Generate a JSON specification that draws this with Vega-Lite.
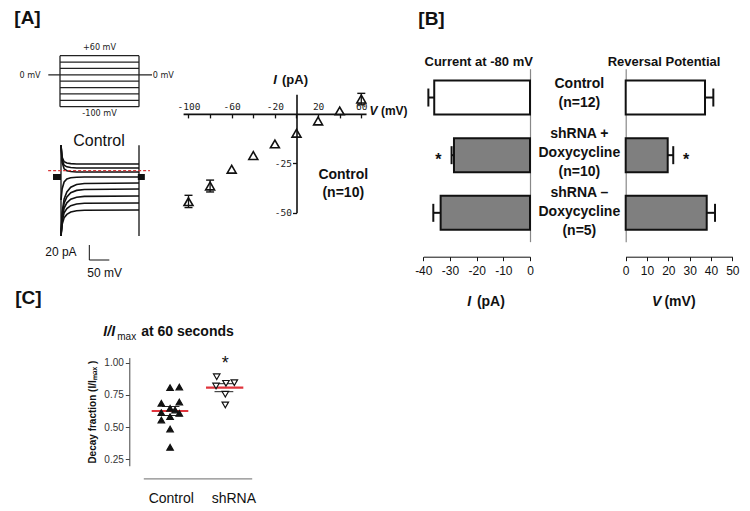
{
  "$schema": "https://vega.github.io/schema/vega-lite/v6.json",
  "width": 750,
  "height": 511,
  "autosize": {"type": "none"},
  "padding": 0,
  "background": "#ffffff",
  "config": {
    "view": {"stroke": null},
    "font": "Liberation Sans",
    "axis": {"grid": false, "labelFlush": false, "labelOverlap": false, "labelBound": false, "domainColor": "#111", "tickColor": "#111", "labelColor": "#111", "labelFont": "Liberation Sans", "titleFont": "Liberation Sans"},
    "text": {"color": "#111", "font": "Liberation Sans"}
  },
  "datasets": {
    "proto_segs": [
      {"t1": 0, "t2": 200, "v1": 60, "v2": 60},
      {"t1": 0, "t2": 200, "v1": 40, "v2": 40},
      {"t1": 0, "t2": 200, "v1": 20, "v2": 20},
      {"t1": -29.6, "t2": 232.9, "v1": 0, "v2": 0},
      {"t1": 0, "t2": 200, "v1": -20, "v2": -20},
      {"t1": 0, "t2": 200, "v1": -40, "v2": -40},
      {"t1": 0, "t2": 200, "v1": -60, "v2": -60},
      {"t1": 0, "t2": 200, "v1": -80, "v2": -80},
      {"t1": 0, "t2": 200, "v1": -100, "v2": -100},
      {"t1": 0, "t2": 0, "v1": -100, "v2": 60},
      {"t1": 200, "t2": 200, "v1": -100, "v2": 60}
    ],
    "proto_labels": [
      {"t": 100, "v": 87.3, "label": "+60 mV"},
      {"t": 100, "v": -119.8, "label": "-100 mV"},
      {"t": -75.9, "v": 0, "label": "0 mV"},
      {"t": 261.5, "v": 0, "label": "0 mV"}
    ],
    "traces": [
      {"tr": 1, "t": 0, "I": 33}, {"tr": 1, "t": 3, "I": 16.8}, {"tr": 1, "t": 8, "I": 11}, {"tr": 1, "t": 15, "I": 9.3}, {"tr": 1, "t": 25, "I": 8.5}, {"tr": 1, "t": 40, "I": 8}, {"tr": 1, "t": 60, "I": 8}, {"tr": 1, "t": 200, "I": 8},
      {"tr": 2, "t": 0, "I": 33}, {"tr": 2, "t": 3, "I": 13.3}, {"tr": 2, "t": 8, "I": 6.3}, {"tr": 2, "t": 15, "I": 4.2}, {"tr": 2, "t": 25, "I": 3.3}, {"tr": 2, "t": 40, "I": 2.7}, {"tr": 2, "t": 60, "I": 2.7}, {"tr": 2, "t": 200, "I": 2.7},
      {"tr": 3, "t": 0, "I": 33}, {"tr": 3, "t": 3, "I": 9.8}, {"tr": 3, "t": 8, "I": 1.6}, {"tr": 3, "t": 15, "I": -0.9}, {"tr": 3, "t": 25, "I": -2.0}, {"tr": 3, "t": 40, "I": -2.7}, {"tr": 3, "t": 60, "I": -2.7}, {"tr": 3, "t": 200, "I": -2.7},
      {"tr": 4, "t": 0, "I": -40}, {"tr": 4, "t": 3, "I": -25}, {"tr": 4, "t": 8, "I": -16}, {"tr": 4, "t": 15, "I": -12}, {"tr": 4, "t": 25, "I": -10.3}, {"tr": 4, "t": 40, "I": -9.6}, {"tr": 4, "t": 60, "I": -9.3}, {"tr": 4, "t": 200, "I": -9.3},
      {"tr": 5, "t": 0, "I": -88}, {"tr": 5, "t": 3, "I": -56.2}, {"tr": 5, "t": 8, "I": -38.5}, {"tr": 5, "t": 15, "I": -29.3}, {"tr": 5, "t": 25, "I": -23.0}, {"tr": 5, "t": 40, "I": -19.4}, {"tr": 5, "t": 60, "I": -18.0}, {"tr": 5, "t": 200, "I": -17.3},
      {"tr": 6, "t": 0, "I": -88}, {"tr": 6, "t": 3, "I": -59.8}, {"tr": 6, "t": 8, "I": -44.1}, {"tr": 6, "t": 15, "I": -36.0}, {"tr": 6, "t": 25, "I": -30.3}, {"tr": 6, "t": 40, "I": -27.2}, {"tr": 6, "t": 60, "I": -25.9}, {"tr": 6, "t": 200, "I": -25.3},
      {"tr": 7, "t": 0, "I": -88}, {"tr": 7, "t": 3, "I": -64.0}, {"tr": 7, "t": 8, "I": -50.7}, {"tr": 7, "t": 15, "I": -43.8}, {"tr": 7, "t": 25, "I": -39.0}, {"tr": 7, "t": 40, "I": -36.3}, {"tr": 7, "t": 60, "I": -35.2}, {"tr": 7, "t": 200, "I": -34.7},
      {"tr": 8, "t": 0, "I": -88}, {"tr": 8, "t": 3, "I": -68.2}, {"tr": 8, "t": 8, "I": -57.2}, {"tr": 8, "t": 15, "I": -51.5}, {"tr": 8, "t": 25, "I": -47.5}, {"tr": 8, "t": 40, "I": -45.3}, {"tr": 8, "t": 60, "I": -44.4}, {"tr": 8, "t": 200, "I": -44},
      {"tr": 9, "t": 0, "I": -88}, {"tr": 9, "t": 3, "I": -72.4}, {"tr": 9, "t": 8, "I": -63.7}, {"tr": 9, "t": 15, "I": -59.2}, {"tr": 9, "t": 25, "I": -56.1}, {"tr": 9, "t": 40, "I": -54.3}, {"tr": 9, "t": 60, "I": -53.6}, {"tr": 9, "t": 200, "I": -53.3}
    ],
    "trace_edges": [{"t": 0, "lo": -88, "hi": 33}, {"t": 200, "lo": -88, "hi": 33}],
    "trace_blocks": [{"t1": -20.5, "t2": 0, "I": -9.3}, {"t1": 197, "t2": 215, "I": -9.3}],
    "trace_zero": [{"t1": -33, "t2": 228, "I": -0.9}],
    "scalebar": [{"t1": 72.6, "t2": 72.6, "I1": -100, "I2": -120}, {"t1": 72.6, "t2": 123.9, "I1": -120, "I2": -120}],
    "trace_lab12": [{"t": -0.3, "I": -109, "label": "20 pA"}, {"t": 112, "I": -137.3, "label": "50 mV"}],
    "trace_lab16": [{"t": 97.4, "I": 38.7, "label": "Control"}],
    "panel_AC": [{"t": -85.9, "I": 203.3, "label": "[A]"}, {"t": -83.8, "I": -171.3, "label": "[C]"}],
    "iv": [
      {"V": -100, "I": -44.4}, {"V": -80, "I": -36.5}, {"V": -60, "I": -28.0}, {"V": -40, "I": -21.1}, {"V": -20, "I": -15.2},
      {"V": 0, "I": -9.8}, {"V": 20, "I": -3.6}, {"V": 40, "I": 1.5}, {"V": 60, "I": 7.5}
    ],
    "iv_err": [{"V": -100, "lo": -47.4, "hi": -41.2}, {"V": -80, "lo": -39.5, "hi": -33.5}, {"V": 60, "lo": 4.6, "hi": 10.4}],
    "iv_caps": [{"V": -100, "I": -47.4}, {"V": -100, "I": -41.2}, {"V": -80, "I": -39.5}, {"V": -80, "I": -33.5}, {"V": 60, "I": 4.6}, {"V": 60, "I": 10.4}],
    "iv_it13": [{"V": -19.9, "I": 17.16, "label": "I"}],
    "iv_it12": [{"V": 71.4, "I": 1.47, "label": "V"}],
    "iv_b12": [{"V": 90.5, "I": 1.47, "label": "(mV)"}],
    "iv_b13": [{"V": -1.4, "I": 17.16, "label": "(pA)"}, {"V": 168.7, "I": 26.4, "label": "Current at -80 mV"}, {"V": 340.3, "I": 26.4, "label": "Reversal Potential"}],
    "iv_it14": [{"V": 160.0, "I": -95.0, "label": "I"}, {"V": 333.5, "I": -95.0, "label": "V"}],
    "iv_b14": [{"V": 180.0, "I": -95.0, "label": "(pA)"}, {"V": 355.1, "I": -95.0, "label": "(mV)"}],
    "iv_ctl": [{"V": 43.3, "I": -35.4, "lines": ["Control", "(n=10)"]}],
    "iv_b19": [{"V": 125, "I": 48.0, "label": "[B]"}],
    "bars": [
      {"grp": "Control", "cur": -35.9, "curErr": -38.1, "rev": 37.2, "revErr": 41.1},
      {"grp": "shRNA+", "cur": -28.5, "curErr": -29.4, "rev": 19.7, "revErr": 22.3},
      {"grp": "shRNA-", "cur": -33.5, "curErr": -36.25, "rev": 38.0, "revErr": 41.9}
    ],
    "bstars": [{"grp": "shRNA+", "cur": -34.4, "rev": 28.3, "label": "*"}],
    "blabels": [
      {"grp": "Control", "nlines": 2, "lines": ["Control", "(n=12)"]},
      {"grp": "shRNA+", "nlines": 3, "lines": ["shRNA +", "Doxycycline", "(n=10)"]},
      {"grp": "shRNA-", "nlines": 3, "lines": ["shRNA –", "Doxycycline", "(n=5)"]}
    ],
    "cpts": [
      {"grp": "Control", "xpos": 0.99, "frac": 0.806}, {"grp": "Control", "xpos": 1.137, "frac": 0.811},
      {"grp": "Control", "xpos": 0.85, "frac": 0.685}, {"grp": "Control", "xpos": 1.137, "frac": 0.695},
      {"grp": "Control", "xpos": 0.99, "frac": 0.646}, {"grp": "Control", "xpos": 1.07, "frac": 0.633},
      {"grp": "Control", "xpos": 0.85, "frac": 0.612}, {"grp": "Control", "xpos": 1.137, "frac": 0.607},
      {"grp": "Control", "xpos": 0.99, "frac": 0.581}, {"grp": "Control", "xpos": 0.85, "frac": 0.555},
      {"grp": "Control", "xpos": 0.99, "frac": 0.485}, {"grp": "Control", "xpos": 0.99, "frac": 0.343},
      {"grp": "shRNA", "xpos": 1.735, "frac": 0.891}, {"grp": "shRNA", "xpos": 1.724, "frac": 0.819},
      {"grp": "shRNA", "xpos": 1.883, "frac": 0.840}, {"grp": "shRNA", "xpos": 2.016, "frac": 0.845},
      {"grp": "shRNA", "xpos": 1.872, "frac": 0.755}, {"grp": "shRNA", "xpos": 1.872, "frac": 0.672}
    ],
    "cmeans": [{"x1": 0.696, "x2": 1.281, "y": 0.625}, {"x1": 1.564, "x2": 2.16, "y": 0.806}],
    "csem": [{"x1": 0.86, "x2": 1.14, "y": 0.59}, {"x1": 0.86, "x2": 1.14, "y": 0.66}, {"x1": 1.7, "x2": 2.0, "y": 0.775}, {"x1": 1.7, "x2": 2.0, "y": 0.837}],
    "cstar": [{"x": 1.872, "y": 0.987, "label": "*"}],
    "ct_it": [{"x": 0.017, "y": 1.2407, "label": "I/I"}],
    "ct_sub": [{"x": 0.297, "y": 1.2034, "label": "max"}],
    "ct_main": [{"x": 1.268, "y": 1.2407, "label": "at 60 seconds"}]
  },
  "resolve": {
    "scale": {"x": "independent", "y": "independent", "fill": "independent", "shape": "independent"},
    "axis": {"x": "independent", "y": "independent"}
  },
  "layer": [
    {
      "layer": [
        {
          "data": {"name": "proto_segs"},
          "mark": {"type": "rule", "color": "#222", "strokeWidth": 1.3},
          "encoding": {
            "x": {"field": "t1", "type": "quantitative", "scale": {"domain": [0, 200], "range": [60, 139], "zero": false, "nice": false}, "axis": null},
            "x2": {"field": "t2"},
            "y": {"field": "v1", "type": "quantitative", "scale": {"domain": [-100, 60], "range": [106.7, 55.7], "zero": false, "nice": false}, "axis": null},
            "y2": {"field": "v2"}
          }
        },
        {
          "data": {"name": "proto_labels"},
          "mark": {"type": "text", "fontSize": 9, "font": "Liberation Sans Narrow, DejaVu Sans Condensed, Liberation Sans", "baseline": "middle", "align": "center", "color": "#222"},
          "encoding": {
            "x": {"field": "t", "type": "quantitative", "scale": {"domain": [0, 200], "range": [60, 139], "zero": false, "nice": false}, "axis": null},
            "y": {"field": "v", "type": "quantitative", "scale": {"domain": [-100, 60], "range": [106.7, 55.7], "zero": false, "nice": false}, "axis": null},
            "text": {"field": "label"}
          }
        }
      ]
    },
    {
      "layer": [
        {
          "data": {"name": "traces"},
          "mark": {"type": "line", "color": "#111", "strokeWidth": 1.6},
          "encoding": {
            "x": {"field": "t", "type": "quantitative", "scale": {"domain": [0, 200], "range": [61, 139], "zero": false, "nice": false}, "axis": null},
            "y": {"field": "I", "type": "quantitative", "scale": {"domain": [-88, 33], "range": [236, 145.25], "zero": false, "nice": false}, "axis": null},
            "detail": {"field": "tr", "type": "nominal"}
          }
        },
        {
          "data": {"name": "trace_edges"},
          "mark": {"type": "rule", "color": "#111", "strokeWidth": 1.3},
          "encoding": {
            "x": {"field": "t", "type": "quantitative"},
            "y": {"field": "lo", "type": "quantitative"},
            "y2": {"field": "hi"}
          }
        },
        {
          "data": {"name": "trace_blocks"},
          "mark": {"type": "rule", "color": "#111", "strokeWidth": 6},
          "encoding": {
            "x": {"field": "t1", "type": "quantitative"},
            "x2": {"field": "t2"},
            "y": {"field": "I", "type": "quantitative"}
          }
        },
        {
          "data": {"name": "trace_zero"},
          "mark": {"type": "rule", "color": "#d9383a", "strokeWidth": 1.2, "strokeDash": [3, 2]},
          "encoding": {
            "x": {"field": "t1", "type": "quantitative"},
            "x2": {"field": "t2"},
            "y": {"field": "I", "type": "quantitative"}
          }
        },
        {
          "data": {"name": "scalebar"},
          "mark": {"type": "rule", "color": "#111", "strokeWidth": 1},
          "encoding": {
            "x": {"field": "t1", "type": "quantitative"},
            "x2": {"field": "t2"},
            "y": {"field": "I1", "type": "quantitative"},
            "y2": {"field": "I2"}
          }
        },
        {
          "data": {"name": "trace_lab12"},
          "mark": {"type": "text", "fontSize": 12, "baseline": "middle", "align": "center"},
          "encoding": {
            "x": {"field": "t", "type": "quantitative"},
            "y": {"field": "I", "type": "quantitative"},
            "text": {"field": "label"}
          }
        },
        {
          "data": {"name": "trace_lab16"},
          "mark": {"type": "text", "fontSize": 16, "baseline": "middle", "align": "center"},
          "encoding": {
            "x": {"field": "t", "type": "quantitative"},
            "y": {"field": "I", "type": "quantitative"},
            "text": {"field": "label"}
          }
        },
        {
          "data": {"name": "panel_AC"},
          "mark": {"type": "text", "fontSize": 19, "fontWeight": "bold", "baseline": "middle", "align": "center"},
          "encoding": {
            "x": {"field": "t", "type": "quantitative"},
            "y": {"field": "I", "type": "quantitative"},
            "text": {"field": "label"}
          }
        }
      ]
    },
    {
      "layer": [
        {
          "data": {"name": "iv_err"},
          "mark": {"type": "rule", "color": "#111", "strokeWidth": 1.3},
          "encoding": {
            "x": {"field": "V", "type": "quantitative", "scale": {"domain": [-105, 64.4], "range": [183.1, 366.05], "zero": false, "nice": false},
              "axis": {"orient": "bottom", "offset": -397.1, "values": [-100, -80, -60, -40, -20, 0, 20, 40, 60], "labelExpr": "datum.value % 40 != 0 ? '' + datum.value : ''", "tickSize": 4, "tickWidth": 1.3, "domainWidth": 1.6, "labelPadding": -11, "labelBaseline": "middle", "labelFont": "DejaVu Sans Mono", "labelFontSize": 9.5, "labelColor": "#222", "title": null}},
            "y": {"field": "lo", "type": "quantitative", "scale": {"domain": [-50, 10], "range": [212.7, 94.14], "zero": false, "nice": false},
              "axis": {"orient": "left", "offset": -296.5, "values": [-50, -25], "labelExpr": "'' + datum.value", "tickSize": 4, "tickWidth": 1.3, "domainWidth": 1.6, "labelPadding": 1, "labelFont": "DejaVu Sans Mono", "labelFontSize": 9.5, "labelColor": "#222", "title": null}},
            "y2": {"field": "hi"}
          }
        },
        {
          "data": {"name": "iv_caps"},
          "mark": {"type": "tick", "orient": "horizontal", "color": "#111", "size": 8, "thickness": 1.4, "opacity": 1},
          "encoding": {
            "x": {"field": "V", "type": "quantitative"},
            "y": {"field": "I", "type": "quantitative"}
          }
        },
        {
          "data": {"name": "iv"},
          "mark": {"type": "point", "shape": "triangle-up", "filled": false, "color": "#111", "strokeWidth": 1.6, "size": 80, "opacity": 1},
          "encoding": {
            "x": {"field": "V", "type": "quantitative"},
            "y": {"field": "I", "type": "quantitative"}
          }
        },
        {
          "data": {"name": "iv_it13"},
          "mark": {"type": "text", "fontSize": 13, "fontWeight": "bold", "fontStyle": "italic", "baseline": "middle", "align": "center"},
          "encoding": {"x": {"field": "V", "type": "quantitative"}, "y": {"field": "I", "type": "quantitative"}, "text": {"field": "label"}}
        },
        {
          "data": {"name": "iv_it12"},
          "mark": {"type": "text", "fontSize": 12, "fontWeight": "bold", "fontStyle": "italic", "baseline": "middle", "align": "center"},
          "encoding": {"x": {"field": "V", "type": "quantitative"}, "y": {"field": "I", "type": "quantitative"}, "text": {"field": "label"}}
        },
        {
          "data": {"name": "iv_b12"},
          "mark": {"type": "text", "fontSize": 12, "fontWeight": "bold", "baseline": "middle", "align": "center"},
          "encoding": {"x": {"field": "V", "type": "quantitative"}, "y": {"field": "I", "type": "quantitative"}, "text": {"field": "label"}}
        },
        {
          "data": {"name": "iv_b13"},
          "mark": {"type": "text", "fontSize": 13, "fontWeight": "bold", "baseline": "middle", "align": "center"},
          "encoding": {"x": {"field": "V", "type": "quantitative"}, "y": {"field": "I", "type": "quantitative"}, "text": {"field": "label"}}
        },
        {
          "data": {"name": "iv_it14"},
          "mark": {"type": "text", "fontSize": 14, "fontWeight": "bold", "fontStyle": "italic", "baseline": "middle", "align": "center"},
          "encoding": {"x": {"field": "V", "type": "quantitative"}, "y": {"field": "I", "type": "quantitative"}, "text": {"field": "label"}}
        },
        {
          "data": {"name": "iv_b14"},
          "mark": {"type": "text", "fontSize": 14, "fontWeight": "bold", "baseline": "middle", "align": "center"},
          "encoding": {"x": {"field": "V", "type": "quantitative"}, "y": {"field": "I", "type": "quantitative"}, "text": {"field": "label"}}
        },
        {
          "data": {"name": "iv_ctl"},
          "mark": {"type": "text", "fontSize": 14, "fontWeight": "bold", "baseline": "middle", "align": "center", "lineHeight": 17.7, "dy": -8.85},
          "encoding": {"x": {"field": "V", "type": "quantitative"}, "y": {"field": "I", "type": "quantitative"}, "text": {"field": "lines"}}
        },
        {
          "data": {"name": "iv_b19"},
          "mark": {"type": "text", "fontSize": 19, "fontWeight": "bold", "baseline": "middle", "align": "center"},
          "encoding": {"x": {"field": "V", "type": "quantitative"}, "y": {"field": "I", "type": "quantitative"}, "text": {"field": "label"}}
        }
      ]
    },
    {
      "data": {"name": "bars"},
      "layer": [
        {
          "mark": {"type": "bar", "stroke": "#111", "strokeWidth": 2},
          "encoding": {
            "x": {"field": "cur", "type": "quantitative", "scale": {"domain": [-40, 0], "range": [423.3, 530], "zero": false, "nice": false},
              "axis": {"orient": "bottom", "offset": -254.3, "values": [-40, -30, -20, -10, 0], "labelExpr": "'' + datum.value", "tickSize": 4, "labelPadding": 5, "labelFontSize": 12, "domainWidth": 1, "title": null}},
            "y": {"field": "grp", "type": "nominal", "scale": {"type": "band", "domain": ["Control", "shRNA+", "shRNA-"], "range": [68.7, 241.65], "paddingInner": 0.41, "paddingOuter": 0.205},
              "axis": {"orient": "left", "offset": -530, "ticks": false, "labels": false, "domainColor": "#888", "domainWidth": 1.2, "title": null}},
            "fill": {"field": "grp", "type": "nominal", "scale": {"domain": ["Control", "shRNA+", "shRNA-"], "range": ["#ffffff", "#7f7f7f", "#7f7f7f"]}, "legend": null}
          }
        },
        {
          "mark": {"type": "rule", "color": "#111", "strokeWidth": 2},
          "encoding": {
            "x": {"field": "cur", "type": "quantitative"},
            "x2": {"field": "curErr"},
            "y": {"field": "grp", "type": "nominal"}
          }
        },
        {
          "mark": {"type": "tick", "orient": "vertical", "color": "#111", "size": 18, "thickness": 2, "opacity": 1},
          "encoding": {
            "x": {"field": "curErr", "type": "quantitative"},
            "y": {"field": "grp", "type": "nominal"}
          }
        },
        {
          "data": {"name": "bstars"},
          "mark": {"type": "text", "fontSize": 16, "fontWeight": "bold", "baseline": "middle", "align": "center", "dy": 5},
          "encoding": {
            "x": {"field": "cur", "type": "quantitative"},
            "y": {"field": "grp", "type": "nominal"},
            "text": {"field": "label"}
          }
        }
      ]
    },
    {
      "data": {"name": "bars"},
      "layer": [
        {
          "mark": {"type": "bar", "stroke": "#111", "strokeWidth": 2},
          "encoding": {
            "x": {"field": "rev", "type": "quantitative", "scale": {"domain": [0, 50], "range": [625.7, 732.3], "zero": false, "nice": false},
              "axis": {"orient": "bottom", "offset": -254.3, "values": [0, 10, 20, 30, 40, 50], "tickSize": 4, "labelPadding": 5, "labelFontSize": 12, "domainWidth": 1, "title": null}},
            "y": {"field": "grp", "type": "nominal", "scale": {"type": "band", "domain": ["Control", "shRNA+", "shRNA-"], "range": [68.7, 241.65], "paddingInner": 0.41, "paddingOuter": 0.205},
              "axis": {"orient": "left", "offset": -625.7, "ticks": false, "labels": false, "domainColor": "#888", "domainWidth": 1.2, "title": null}},
            "fill": {"field": "grp", "type": "nominal", "scale": {"domain": ["Control", "shRNA+", "shRNA-"], "range": ["#ffffff", "#7f7f7f", "#7f7f7f"]}, "legend": null}
          }
        },
        {
          "mark": {"type": "rule", "color": "#111", "strokeWidth": 2},
          "encoding": {
            "x": {"field": "rev", "type": "quantitative"},
            "x2": {"field": "revErr"},
            "y": {"field": "grp", "type": "nominal"}
          }
        },
        {
          "mark": {"type": "tick", "orient": "vertical", "color": "#111", "size": 18, "thickness": 2, "opacity": 1},
          "encoding": {
            "x": {"field": "revErr", "type": "quantitative"},
            "y": {"field": "grp", "type": "nominal"}
          }
        },
        {
          "data": {"name": "bstars"},
          "mark": {"type": "text", "fontSize": 16, "fontWeight": "bold", "baseline": "middle", "align": "center", "dy": 5},
          "encoding": {
            "x": {"field": "rev", "type": "quantitative"},
            "y": {"field": "grp", "type": "nominal"},
            "text": {"field": "label"}
          }
        }
      ]
    },
    {
      "data": {"name": "blabels"},
      "layer": [
        {
          "transform": [{"filter": "datum.nlines == 2"}],
          "mark": {"type": "text", "fontSize": 14, "fontWeight": "bold", "baseline": "middle", "align": "center", "lineHeight": 19, "dy": -9.5},
          "encoding": {
            "x": {"datum": 18.5, "type": "quantitative", "scale": {"domain": [-40, 0], "range": [423.3, 530], "zero": false, "nice": false}, "axis": null},
            "y": {"field": "grp", "type": "nominal", "scale": {"type": "band", "domain": ["Control", "shRNA+", "shRNA-"], "range": [63.55, 242.05], "paddingInner": 0, "paddingOuter": 0}, "axis": null},
            "text": {"field": "lines"}
          }
        },
        {
          "transform": [{"filter": "datum.nlines == 3"}],
          "mark": {"type": "text", "fontSize": 14, "fontWeight": "bold", "baseline": "middle", "align": "center", "lineHeight": 19, "dy": -19},
          "encoding": {
            "x": {"datum": 18.5, "type": "quantitative"},
            "y": {"field": "grp", "type": "nominal"},
            "text": {"field": "lines"}
          }
        }
      ]
    },
    {
      "layer": [
        {
          "data": {"name": "cmeans"},
          "mark": {"type": "rule", "color": "#e0343c", "strokeWidth": 2.2},
          "encoding": {
            "x": {"field": "x1", "type": "quantitative", "scale": {"domain": [0.562, 2.294], "range": [143.3, 251.7], "zero": false, "nice": false},
              "axis": {"orient": "bottom", "offset": -32.7, "values": [1, 2], "labelExpr": "datum.value == 1 ? 'Control' : 'shRNA'", "ticks": false, "domainColor": "#888", "domainWidth": 1.2, "labelFontSize": 14, "labelPadding": 13, "title": null}},
            "x2": {"field": "x2"},
            "y": {"field": "y", "type": "quantitative", "scale": {"domain": [0.2, 1.04], "range": [465.74, 357.55], "zero": false, "nice": false},
              "axis": {"orient": "left", "offset": -129.3, "values": [0.25, 0.5, 0.75, 1], "format": ".2f", "tickSize": 4, "labelFontSize": 10, "labelColor": "#333", "domainColor": "#444", "tickColor": "#444", "labelPadding": 2, "title": "Decay fraction (I/Iₘₐₓ )", "titleFontSize": 10, "titleFontWeight": "bold", "titlePadding": 6, "titleColor": "#111"}}
          }
        },
        {
          "data": {"name": "csem"},
          "mark": {"type": "rule", "color": "#222", "strokeWidth": 1},
          "encoding": {
            "x": {"field": "x1", "type": "quantitative"},
            "x2": {"field": "x2"},
            "y": {"field": "y", "type": "quantitative"}
          }
        },
        {
          "data": {"name": "cpts"},
          "mark": {"type": "point", "filled": true, "stroke": "#111", "strokeWidth": 1.2, "size": 42, "opacity": 1},
          "encoding": {
            "x": {"field": "xpos", "type": "quantitative"},
            "y": {"field": "frac", "type": "quantitative"},
            "shape": {"field": "grp", "type": "nominal", "scale": {"domain": ["Control", "shRNA"], "range": ["triangle-up", "triangle-down"]}, "legend": null},
            "fill": {"field": "grp", "type": "nominal", "scale": {"domain": ["Control", "shRNA"], "range": ["#111111", "#ffffff"]}, "legend": null}
          }
        },
        {
          "data": {"name": "cstar"},
          "mark": {"type": "text", "fontSize": 18, "baseline": "middle", "align": "center"},
          "encoding": {"x": {"field": "x", "type": "quantitative"}, "y": {"field": "y", "type": "quantitative"}, "text": {"field": "label"}}
        },
        {
          "data": {"name": "ct_it"},
          "mark": {"type": "text", "fontSize": 14, "fontWeight": "bold", "fontStyle": "italic", "baseline": "middle", "align": "center"},
          "encoding": {"x": {"field": "x", "type": "quantitative"}, "y": {"field": "y", "type": "quantitative"}, "text": {"field": "label"}}
        },
        {
          "data": {"name": "ct_sub"},
          "mark": {"type": "text", "fontSize": 10, "baseline": "middle", "align": "center"},
          "encoding": {"x": {"field": "x", "type": "quantitative"}, "y": {"field": "y", "type": "quantitative"}, "text": {"field": "label"}}
        },
        {
          "data": {"name": "ct_main"},
          "mark": {"type": "text", "fontSize": 14, "fontWeight": "bold", "baseline": "middle", "align": "center"},
          "encoding": {"x": {"field": "x", "type": "quantitative"}, "y": {"field": "y", "type": "quantitative"}, "text": {"field": "label"}}
        }
      ]
    }
  ]
}
